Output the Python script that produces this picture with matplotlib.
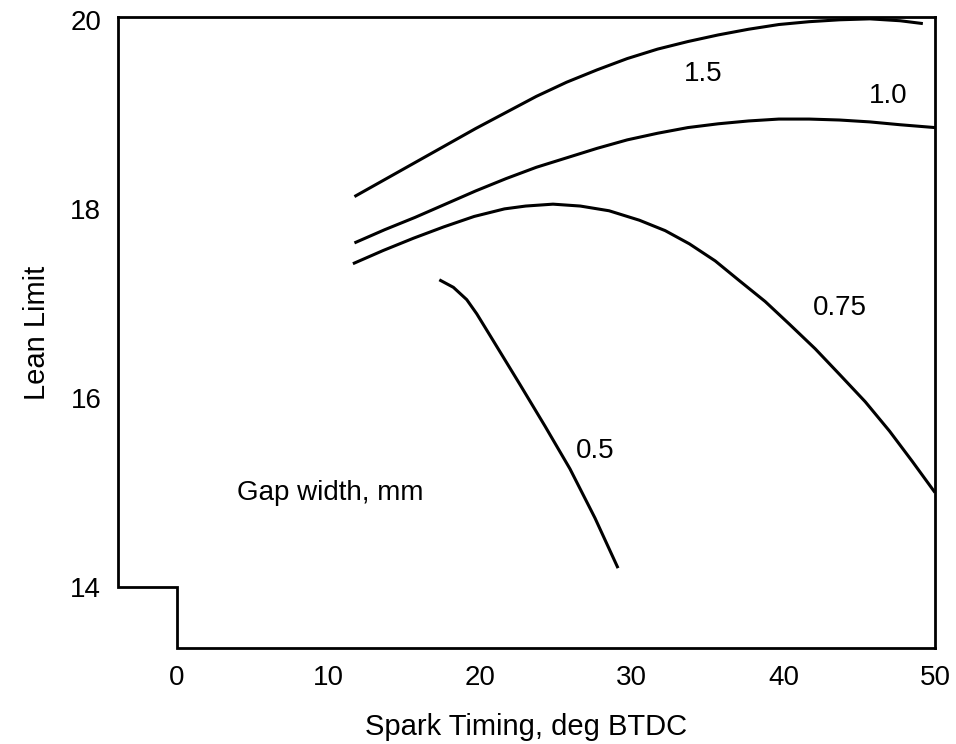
import numpy as np
import matplotlib
matplotlib.use("Agg")
import matplotlib.pyplot as plt

plt.rcParams['font.family'] = ['Liberation Sans', 'DejaVu Sans']

# curves: spark timing (deg BTDC) vs lean limit
gap15_x = [11.7, 13.7, 15.7, 17.7, 19.7, 21.7, 23.7, 25.7, 27.7, 29.7,
           31.7, 33.7, 35.7, 37.7, 39.7, 41.7, 43.7, 45.7, 47.7, 49.2]
gap15_y = [18.13, 18.31, 18.49, 18.67, 18.85, 19.02, 19.19, 19.34, 19.47, 19.59,
           19.69, 19.77, 19.84, 19.90, 19.95, 19.98, 20.00, 20.01, 19.99, 19.96]

gap10_x = [11.7, 13.7, 15.7, 17.7, 19.7, 21.7, 23.7, 25.7, 27.7, 29.7,
           31.7, 33.7, 35.7, 37.7, 39.7, 41.7, 43.7, 45.7, 47.7, 50.0]
gap10_y = [17.64, 17.78, 17.91, 18.05, 18.19, 18.32, 18.44, 18.54, 18.64, 18.73,
           18.80, 18.86, 18.90, 18.93, 18.95, 18.95, 18.94, 18.92, 18.89, 18.86]

gap075_x = [11.6, 13.6, 15.6, 17.6, 19.6, 21.6, 23.0, 24.8, 26.6, 28.5, 30.5, 32.2,
            33.8, 35.5, 37.1, 38.8, 40.4, 42.1, 43.7, 45.4, 47.0, 48.5, 50.0]
gap075_y = [17.42, 17.56, 17.69, 17.81, 17.92, 18.00, 18.03, 18.05, 18.03, 17.98, 17.88, 17.77,
            17.63, 17.45, 17.24, 17.02, 16.78, 16.52, 16.25, 15.96, 15.65, 15.33, 15.00]

gap05_x = [17.30, 18.23, 19.11, 19.77, 20.65, 22.63, 24.28, 25.92, 27.57, 29.09]
gap05_y = [17.25, 17.17, 17.04, 16.89, 16.66, 16.14, 15.70, 15.25, 14.73, 14.20]

curve_labels = ['1.5', '1.0', '0.75', '0.5']
label_pos = [(34.7, 19.43), (46.9, 19.19), (43.7, 16.95), (27.6, 15.44)]

xticks = [0, 10, 20, 30, 40, 50]
yticks = [14, 16, 18, 20]

fig = plt.figure(figsize=(9.56, 7.44), dpi=100)
ax = fig.add_axes([0.1234, 0.129, 0.978 - 0.1234, 0.9772 - 0.129])

xmin, xmax = -3.9, 50.0
ymin, ymax = 13.355, 20.03
ax.set_xlim(xmin, xmax)
ax.set_ylim(ymin, ymax)

lw = 2.2
for xs, ys in [(gap15_x, gap15_y), (gap10_x, gap10_y),
               (gap075_x, gap075_y), (gap05_x, gap05_y)]:
    ax.plot(xs, ys, color='black', lw=lw, solid_capstyle='butt',
            solid_joinstyle='round')

for txt, (tx, ty) in zip(curve_labels, label_pos):
    ax.text(tx, ty, txt, fontsize=20, ha='center', va='center')

ax.text(10.1, 15.0, 'Gap width, mm', fontsize=20, ha='center', va='center')

# frame with the notched lower-left corner
ax.spines['left'].set_visible(False)
ax.spines['bottom'].set_visible(False)
for s in ['top', 'right']:
    ax.spines[s].set_linewidth(2.0)
ax.plot([xmin, xmin, 0, 0, xmax], [ymax, 14, 14, ymin, ymin],
        color='black', lw=2.0, clip_on=False, solid_joinstyle='miter')

ax.set_xticks(xticks)
ax.set_yticks(yticks)
ax.tick_params(length=0, labelsize=20)
ax.tick_params(axis='x', pad=12)
ax.tick_params(axis='y', pad=12)

ax.set_xlabel('Spark Timing, deg BTDC', fontsize=21, labelpad=16)
ax.set_ylabel('Lean Limit', fontsize=21, labelpad=14)

fig.savefig('out.png', dpi=100)
